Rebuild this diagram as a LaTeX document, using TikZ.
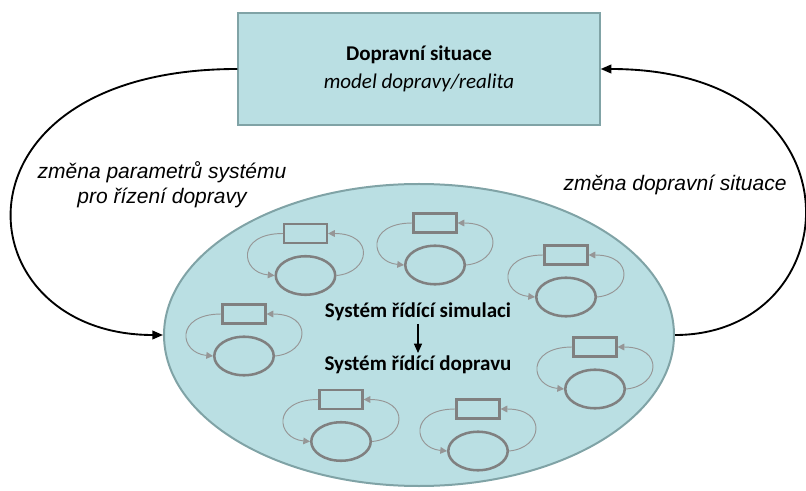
\documentclass[tikz,border=0pt]{standalone}
\usepackage{fontspec}
\setmainfont{Carlito}
\newfontfamily\arialfont{Liberation Sans}
\usetikzlibrary{arrows.meta,shapes.geometric}

\definecolor{tealfill}{RGB}{186,223,227}
\definecolor{tealedge}{RGB}{128,163,166}
\definecolor{icongray}{RGB}{128,128,128}
\definecolor{loopgray}{RGB}{150,150,150}

% one control loop: a block above a process, linked both ways
\newcommand\loopicon[3]{%
  \node[iconoval] (#1e) at (#2,#3) {};
  \node[iconrect] (#1r) at (#2,#3-42) {};
  \draw[iconloop] (#1r.west) .. controls +(-47,0) and +(-34,-3) .. (#1e.west);
  \draw[iconloop] (#1e.east) .. controls +(34,-3) and +(47,0) .. (#1r.east);
}

\begin{document}
\begin{tikzpicture}[x=0.75pt,y=-0.75pt,
  situation/.style={draw=tealedge, fill=tealfill, line width=1.5pt,
    minimum width=271pt, minimum height=84pt, inner sep=0pt, align=center,
    font=\fontsize{15.75}{20}\selectfont},
  simarea/.style={ellipse, draw=tealedge, fill=tealfill, line width=1.5pt,
    minimum width=382.5pt, minimum height=226.5pt, inner sep=0pt},
  iconrect/.style={draw=icongray, line width=1.9pt,
    minimum width=32pt, minimum height=14.25pt, inner sep=0pt},
  iconoval/.style={ellipse, draw=icongray, line width=1.9pt,
    minimum width=44.6pt, minimum height=28.9pt, inner sep=0pt},
  iconloop/.style={draw=loopgray, line width=0.7pt,
    -{Triangle[length=5pt,width=5pt]}},
  flow/.style={draw=black, line width=1.4pt,
    -{Triangle[length=8pt,width=6.5pt]}},
  steparrow/.style={draw=black, line width=0.8pt,
    -{Triangle[length=7pt,width=6pt]}},
  curvelabel/.style={font=\arialfont\itshape\fontsize{15.75}{18.5}\selectfont,
    align=center},
  systemtext/.style={font=\bfseries\fontsize{15.75}{19}\selectfont, inner sep=2pt}]

\useasboundingbox (0,0) rectangle (806,491);

% traffic situation
\node[situation] (road) at (419,69)
  {\textbf{Dopravní situace}\\[1pt]\textit{model dopravy/realita}};

% control system region
\node[simarea] (sim) at (419,335) {};

\loopicon{a}{305.5}{275.5}
\loopicon{b}{435}{265}
\loopicon{c}{566}{297}
\loopicon{d}{244}{356}
\loopicon{e}{595}{389}
\loopicon{f}{341}{441.5}
\loopicon{g}{478}{451}

\node[systemtext] (simctl) at (418,312) {Systém řídící simulaci};
\node[systemtext] (trafctl) at (418,365) {Systém řídící dopravu};
\draw[steparrow] (simctl.south) -- (trafctl.north);

% feedback between situation and control system
\draw[flow] (road.west) .. controls +(-297,0) and +(-203,0) .. (sim.west);
\draw[flow] (sim.east) .. controls +(175,0) and +(269,0) .. (road.east);

\node[curvelabel] (lblleft) at (162,185)
  {změna parametrů systému\\pro řízení dopravy};
\node[curvelabel] (lblright) at (675,185) {změna dopravní situace};

\end{tikzpicture}
\end{document}
